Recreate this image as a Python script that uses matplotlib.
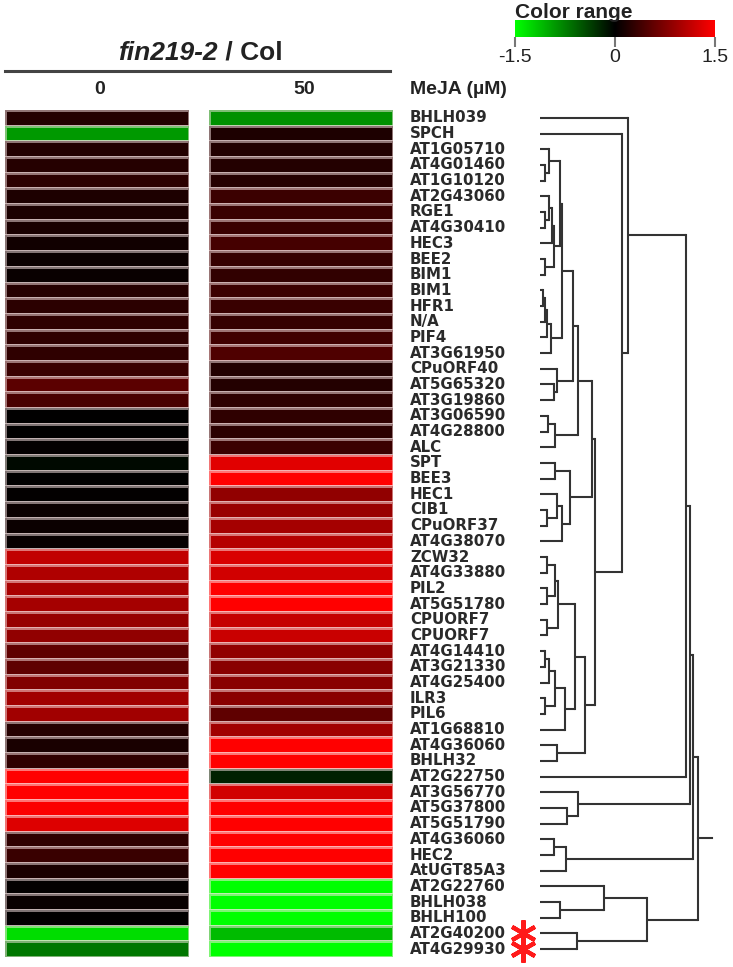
import matplotlib
matplotlib.use('Agg')
import matplotlib.pyplot as plt
import numpy as np
from matplotlib.colors import LinearSegmentedColormap
from matplotlib.transforms import blended_transform_factory

# ---------------- data ----------------
genes = ['BHLH039', 'SPCH', 'AT1G05710', 'AT4G01460', 'AT1G10120', 'AT2G43060',
         'RGE1', 'AT4G30410', 'HEC3', 'BEE2', 'BIM1', 'BIM1', 'HFR1', 'N/A',
         'PIF4', 'AT3G61950', 'CPuORF40', 'AT5G65320', 'AT3G19860', 'AT3G06590',
         'AT4G28800', 'ALC', 'SPT', 'BEE3', 'HEC1', 'CIB1', 'CPuORF37',
         'AT4G38070', 'ZCW32', 'AT4G33880', 'PIL2', 'AT5G51780', 'CPUORF7',
         'CPUORF7', 'AT4G14410', 'AT3G21330', 'AT4G25400', 'ILR3', 'PIL6',
         'AT1G68810', 'AT4G36060', 'BHLH32', 'AT2G22750', 'AT3G56770',
         'AT5G37800', 'AT5G51790', 'AT4G36060', 'HEC2', 'AtUGT85A3',
         'AT2G22760', 'BHLH038', 'BHLH100', 'AT2G40200', 'AT4G29930']

meja_conc = ['0', '50']

val_0 = [0.20, -0.90, 0.20, 0.22, 0.25, 0.17, 0.16, 0.15, 0.10, 0.07,
         0.05, 0.22, 0.25, 0.27, 0.27, 0.28, 0.33, 0.53, 0.43, 0.01,
         0.00, 0.02, -0.05, 0.00, 0.02, 0.06, 0.07, 0.04, 1.13, 1.03,
         0.99, 0.97, 0.88, 0.85, 0.56, 0.56, 0.75, 0.94, 0.94, 0.22,
         0.15, 0.27, 1.50, 1.50, 1.47, 1.30, 0.28, 0.33, 0.16, 0.02,
         0.05, 0.01, -1.30, -0.70]

val_50 = [-0.85, 0.17, 0.19, 0.21, 0.22, 0.35, 0.33, 0.33, 0.41, 0.31,
          0.29, 0.34, 0.33, 0.31, 0.38, 0.46, 0.19, 0.21, 0.26, 0.28,
          0.25, 0.34, 1.32, 1.50, 0.85, 0.90, 0.97, 1.06, 1.27, 1.22,
          1.50, 1.50, 1.16, 1.18, 0.85, 0.80, 0.80, 0.80, 0.56, 0.94,
          1.50, 1.50, -0.19, 1.22, 1.50, 1.50, 1.50, 1.50, 1.50, -1.50,
          -1.50, -1.50, -1.10, -1.50]

marked_genes = [52, 53]          # rows flagged with a red asterisk

# dendrogram merges: (child a, child b, height); leaves 0..53, new nodes 54..
link_a = [3, 2, 6, 5, 9, 57, 59, 55, 11, 62, 63, 64, 61, 17, 16, 66, 19, 70,
          69, 22, 25, 24, 75, 73, 72, 28, 30, 79, 32, 81, 34, 84, 37, 85, 87,
          83, 40, 89, 78, 1, 0, 94, 44, 43, 95, 46, 99, 98, 50, 49, 52, 103, 101]
link_b = [4, 54, 7, 56, 10, 8, 58, 60, 12, 13, 14, 15, 65, 18, 67, 68, 20, 21,
          71, 23, 26, 74, 27, 76, 77, 29, 31, 80, 33, 82, 35, 36, 38, 86, 39,
          88, 41, 90, 91, 92, 93, 42, 45, 96, 97, 47, 48, 100, 51, 102, 53, 104, 105]
link_h = [5, 9, 5, 9, 5, 12, 14, 20, 3, 5, 7, 11, 22, 14, 17, 33, 8, 15,
          38, 15, 7, 17, 22, 30, 52, 7, 7, 15, 7, 18, 5, 9, 5, 15, 25,
          35, 17, 45, 55, 82, 88, 146, 27, 38, 150, 14, 26, 153, 20, 64, 37, 107, 158]

cbar_ticks = [-1.5, 0, 1.5]
cbar_ticklabels = ['-1.5', '0', '1.5']

# ---------------- figure ----------------
W, H = 733, 967
fig = plt.figure(figsize=(W / 100, H / 100), dpi=100)


def fx(px):
    return px / W


def fy(py):
    return 1 - py / H


def box(x0, y0, x1, y1):
    return [fx(x0), fy(y1), (x1 - x0) / W, (y1 - y0) / H]


cmap = LinearSegmentedColormap.from_list('gbr', [(0, 1, 0), (0, 0, 0), (1, 0, 0)])
hdr_font = 'Liberation Sans'
lab_font = 'DejaVu Sans'
txt_col = '#222222'

n = len(genes)
top, bot = 110, 957
cols = [(5, 189), (209, 393)]
for (x0, x1), vals, lab in zip(cols, [val_0, val_50], meja_conc):
    ax = fig.add_axes(box(x0, top, x1, bot))
    ax.pcolormesh(np.array(vals).reshape(-1, 1), cmap=cmap, vmin=-1.5, vmax=1.5,
                  edgecolors=(1, 0.92, 0.92, 0.5), linewidth=1.0)
    ax.set_ylim(n, 0)
    ax.set_xlim(0, 1)
    ax.axis('off')
    fig.text(fx((x0 + x1) / 2 + 3), fy(90), lab, ha='center', va='center',
             fontsize=14, fontweight='bold', family=hdr_font, color=txt_col)

# header
fig.text(fx(218), fy(53), 'fin219-2', ha='right', va='center', fontsize=19,
         fontweight='bold', fontstyle='italic', family=hdr_font, color=txt_col)
fig.text(fx(218), fy(53), ' / Col', ha='left', va='center', fontsize=19,
         fontweight='bold', family=hdr_font, color=txt_col)
fig.add_artist(plt.Line2D([fx(5), fx(390)], [fy(71), fy(71)], color='#444444', lw=2.2))
fig.text(fx(410), fy(90), 'MeJA (µM)', ha='left', va='center', fontsize=14,
         fontweight='bold', family=hdr_font, color=txt_col)

# colour bar
cax = fig.add_axes(box(515, 20, 715, 37))
grad = np.linspace(-1.5, 1.5, 256).reshape(1, -1)
cax.imshow(grad, cmap=cmap, vmin=-1.5, vmax=1.5, aspect='auto',
           extent=[-1.5, 1.5, 0, 1])
cax.set_xlim(-1.5, 1.5)
cax.set_yticks([])
for s in cax.spines.values():
    s.set_visible(False)
cax.set_xticks(cbar_ticks)
cax.set_xticklabels(cbar_ticklabels, fontsize=14, family=hdr_font, color=txt_col)
cax.tick_params(axis='x', length=7, width=1.5, color='#777777', pad=2)
fig.text(fx(515), fy(12), 'Color range', ha='left', va='center', fontsize=15,
         fontweight='bold', family=hdr_font, color=txt_col)

# dendrogram
dax = fig.add_axes(box(540, top, 733, bot))
dax.set_xlim(0, 193)
dax.set_ylim(n, 0)
dax.axis('off')
lc = '#333333'
lw = 1.5
pos_y = {i: i + 0.5 for i in range(n)}
pos_x = {i: 0.0 for i in range(n)}
node = n
for a, b, h in zip(link_a, link_b, link_h):
    ya, yb = pos_y[a], pos_y[b]
    dax.plot([pos_x[a], h], [ya, ya], color=lc, lw=lw, solid_capstyle='butt', clip_on=False)
    dax.plot([pos_x[b], h], [yb, yb], color=lc, lw=lw, solid_capstyle='butt', clip_on=False)
    dax.plot([h, h], [ya, yb], color=lc, lw=lw, solid_capstyle='projecting', clip_on=False)
    pos_y[node] = (ya + yb) / 2
    pos_x[node] = h
    node += 1
root = node - 1
dax.plot([pos_x[root], pos_x[root] + 14], [pos_y[root], pos_y[root]],
         color=lc, lw=lw, clip_on=False)

# gene labels
tr = blended_transform_factory(fig.transFigure, dax.transData)
for i, g in enumerate(genes):
    fig.text(fx(410), i + 0.5, g, transform=tr, ha='left', va='center',
             fontsize=10.8, fontweight='bold', family=lab_font, color='#2a2a2a')

# significance asterisks
for i in marked_genes:
    dax.plot([-17], [i + 0.5], linestyle='none', marker=(6, 2, 0), markersize=19,
             markeredgewidth=3, color='#ff1a1a', clip_on=False)

fig.savefig('out.png', dpi=100)
